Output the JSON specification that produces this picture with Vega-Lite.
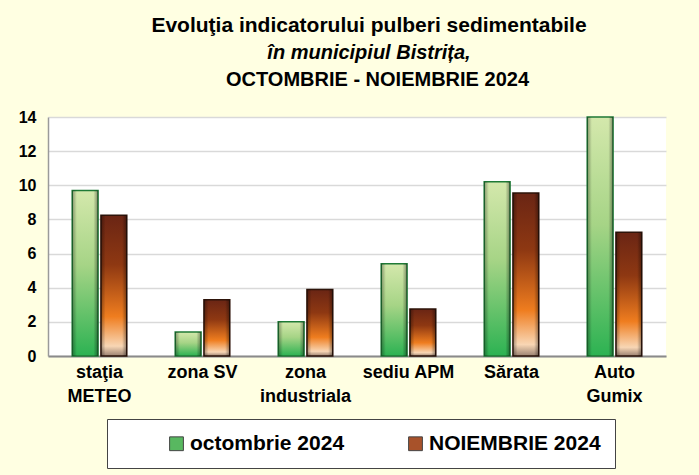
{
  "$schema": "https://vega.github.io/schema/vega-lite/v6.json",
  "width": 618,
  "height": 239,
  "autosize": "none",
  "padding": {"left": 48, "top": 117, "right": 33, "bottom": 119},
  "background": "#FFFFE2",
  "title": {
    "text": "Evoluţia indicatorului pulberi sedimentabile",
    "subtitle": "în municipiul Bistrița,",
    "anchor": "middle",
    "frame": "group",
    "dx": 12,
    "offset": 6,
    "font": "Liberation Sans",
    "fontSize": 21,
    "fontWeight": "bold",
    "color": "#000000",
    "subtitleFont": "Liberation Sans",
    "subtitleFontSize": 20,
    "subtitleFontWeight": "bold",
    "subtitleFontStyle": "italic",
    "subtitleColor": "#000000",
    "subtitlePadding": 7
  },
  "data": {
    "values": [
      {"statie": "staţia METEO", "luna": "octombrie 2024", "valoare": 9.7},
      {"statie": "staţia METEO", "luna": "NOIEMBRIE 2024", "valoare": 8.25},
      {"statie": "zona SV", "luna": "octombrie 2024", "valoare": 1.4},
      {"statie": "zona SV", "luna": "NOIEMBRIE 2024", "valoare": 3.3},
      {"statie": "zona industriala", "luna": "octombrie 2024", "valoare": 2.0},
      {"statie": "zona industriala", "luna": "NOIEMBRIE 2024", "valoare": 3.9},
      {"statie": "sediu APM", "luna": "octombrie 2024", "valoare": 5.4},
      {"statie": "sediu APM", "luna": "NOIEMBRIE 2024", "valoare": 2.75},
      {"statie": "Sărata", "luna": "octombrie 2024", "valoare": 10.2},
      {"statie": "Sărata", "luna": "NOIEMBRIE 2024", "valoare": 9.55},
      {"statie": "Auto Gumix", "luna": "octombrie 2024", "valoare": 14},
      {"statie": "Auto Gumix", "luna": "NOIEMBRIE 2024", "valoare": 7.25}
    ]
  },
  "encoding": {
    "x": {
      "field": "statie",
      "type": "nominal",
      "sort": null,
      "scale": {"paddingInner": 0.47, "paddingOuter": 0.235}
    },
    "xOffset": {
      "field": "luna",
      "type": "nominal",
      "sort": ["octombrie 2024", "NOIEMBRIE 2024"],
      "scale": {"paddingInner": 0.1}
    },
    "y": {
      "field": "valoare",
      "type": "quantitative",
      "scale": {"domain": [0, 14], "nice": false},
      "axis": {
        "values": [0, 2, 4, 6, 8, 10, 12, 14],
        "title": null,
        "labelFont": "Liberation Sans",
        "labelFontSize": 16,
        "labelFontWeight": "bold",
        "labelColor": "#000000",
        "labelPadding": 12,
        "ticks": false,
        "domainColor": "#9a9a9a",
        "domainWidth": 1.5,
        "gridColor": "#d9d9d9",
        "gridWidth": 1.5
      }
    }
  },
  "layer": [
    {
      "mark": {"type": "bar"},
      "encoding": {
        "x": {
          "field": "statie",
          "type": "nominal",
          "sort": null,
          "axis": {
            "title": null,
            "orient": "bottom",
            "labelAngle": 0,
            "labelFont": "Liberation Sans",
            "labelFontSize": 18,
            "labelFontWeight": "bold",
            "labelColor": "#000000",
            "labelPadding": 7,
            "labelLineHeight": 24,
            "labelBaseline": "top",
            "ticks": false,
            "domainColor": "#8a8a8a",
            "domainWidth": 2,
            "labelExpr": "(datum.label == 'zona SV' || datum.label == 'sediu APM') ? datum.label : split(datum.label, ' ')"
          }
        },
        "color": {
          "field": "luna",
          "type": "nominal",
          "sort": ["octombrie 2024", "NOIEMBRIE 2024"],
          "scale": {"domain": ["octombrie 2024", "NOIEMBRIE 2024"], "range": ["#58b860", "#a8522a"]},
          "legend": {
            "title": null,
            "orient": "none",
            "direction": "horizontal",
            "legendX": 59,
            "legendY": 302,
            "padding": 14,
            "fillColor": "#ffffff",
            "strokeColor": "#444444",
            "symbolType": "square",
            "symbolSize": 190,
            "symbolStrokeColor": "#444444",
            "symbolStrokeWidth": 1,
            "symbolOffset": 45,
            "labelOffset": 3,
            "columnPadding": 15,
            "labelFont": "Liberation Sans",
            "labelFontSize": 21,
            "labelFontWeight": "bold",
            "labelColor": "#000000",
            "labelLimit": 300
          }
        }
      }
    },
    {
      "transform": [{"filter": "datum.luna == 'octombrie 2024'"}],
      "mark": {
        "type": "bar",
        "stroke": "#1f7a36",
        "strokeWidth": 1.5,
        "fill": {
          "gradient": "linear", "x1": 0, "y1": 0, "x2": 0, "y2": 1,
          "stops": [
            {"offset": 0, "color": "#d4e8ac"},
            {"offset": 0.45, "color": "#a6d486"},
            {"offset": 1, "color": "#2cb252"}
          ]
        }
      },
      "encoding": {
        "x": {
          "field": "statie",
          "type": "nominal",
          "sort": null,
          "axis": {
            "orient": "top",
            "labels": false,
            "ticks": false,
            "domain": false,
            "grid": false,
            "title": "OCTOMBRIE - NOIEMBRIE 2024",
            "titleFont": "Liberation Sans",
            "titleFontSize": 20,
            "titleFontWeight": "bold",
            "titleColor": "#000000",
            "titlePadding": 28,
            "titleX": 329
          }
        }
      }
    },
    {
      "transform": [{"filter": "datum.luna == 'NOIEMBRIE 2024'"}],
      "mark": {
        "type": "bar",
        "stroke": "#2e140a",
        "strokeWidth": 1.5,
        "fill": {
          "gradient": "linear", "x1": 0, "y1": 0, "x2": 0, "y2": 1,
          "stops": [
            {"offset": 0, "color": "#6a2514"},
            {"offset": 0.35, "color": "#8e3812"},
            {"offset": 0.72, "color": "#ef7d1f"},
            {"offset": 0.93, "color": "#f8d6b4"},
            {"offset": 1, "color": "#9a8272"}
          ]
        }
      },
      "encoding": {
        "x": {"field": "statie", "type": "nominal", "sort": null, "axis": null}
      }
    },
    {
      "mark": {
        "type": "bar",
        "fill": {
          "gradient": "linear", "x1": 0, "y1": 0, "x2": 1, "y2": 0,
          "stops": [
            {"offset": 0, "color": "rgba(0,0,0,0.35)"},
            {"offset": 0.18, "color": "rgba(0,0,0,0)"},
            {"offset": 0.82, "color": "rgba(0,0,0,0)"},
            {"offset": 1, "color": "rgba(0,0,0,0.4)"}
          ]
        }
      },
      "encoding": {
        "x": {"field": "statie", "type": "nominal", "sort": null, "axis": null}
      }
    }
  ],
  "resolve": {"axis": {"x": "independent"}},
  "config": {
    "view": {"fill": "#ffffff", "stroke": null},
    "font": "Liberation Sans"
  }
}
